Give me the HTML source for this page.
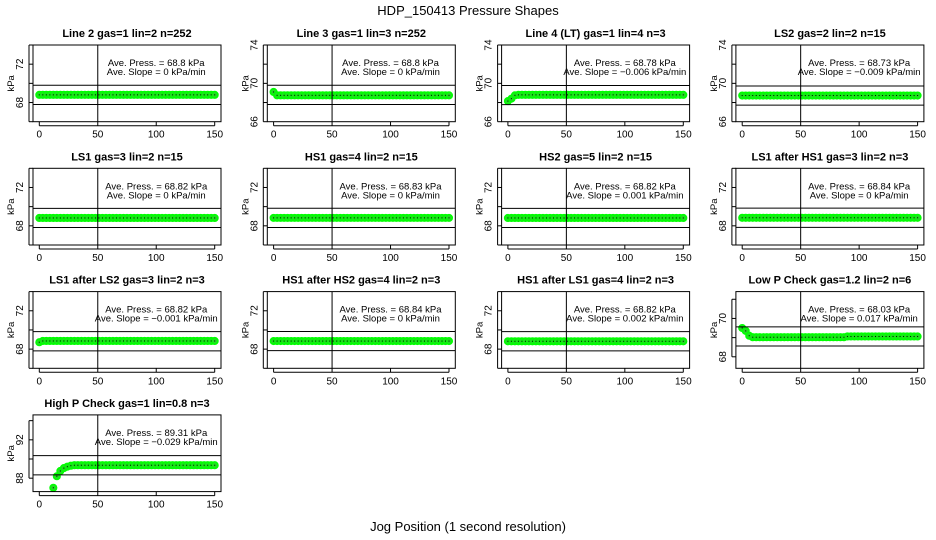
<!DOCTYPE html>
<html><head><meta charset="utf-8"><style>
html,body{margin:0;padding:0;background:#fff;}
svg{display:block;font-family:"Liberation Sans",sans-serif;}
</style></head><body>
<svg id="chart" width="936" height="540" viewBox="0 0 936 540" xmlns="http://www.w3.org/2000/svg">
<rect width="936" height="540" fill="#fff"/>
<text x="468" y="15" text-anchor="middle" font-size="13">HDP_150413  Pressure Shapes</text>
<text x="468" y="531" text-anchor="middle" font-size="13">Jog Position (1 second resolution)</text>
</svg>
<script>
const titles = ["Line 2 gas=1 lin=2 n=252","Line 3 gas=1 lin=3 n=252","Line 4 (LT) gas=1 lin=4 n=3","LS2 gas=2 lin=2 n=15",
"LS1 gas=3 lin=2 n=15","HS1 gas=4 lin=2 n=15","HS2 gas=5 lin=2 n=15","LS1 after HS1 gas=3 lin=2 n=3",
"LS1 after LS2 gas=3 lin=2 n=3","HS1 after HS2 gas=4 lin=2 n=3","HS1 after LS1 gas=4 lin=2 n=3","Low P Check gas=1.2 lin=2 n=6",
"High P Check gas=1 lin=0.8 n=3"];
const avePress = ["68.8","68.8","68.78","68.73","68.82","68.83","68.82","68.84","68.82","68.84","68.82","68.03","89.31"];
const aveSlope = ["0","0","\u22120.006","\u22120.009","0","0","0.001","0","\u22120.001","0","0.002","0.017","\u22120.029"];
const yMin = [66,66,66,66,66,66,66,66,66,66,66,67.4,86.6];
const yMax = [74,74,74,74,74,74,74,74,74,74,74,71.4,94.6];
const yTicksStd = [66,68,70,72,74];
const yTicksLowP = [68,69,70,71];
const yTicksHighP = [88,90,92,94];
const yLabelsA = [68,72];
const yLabelsB = [66,70,74];
const yLabelsLowP = [68,70];
const yLabelsHighP = [88,92];
const hiLine = [69.8,69.8,69.78,69.73,69.82,69.83,69.82,69.84,69.82,69.84,69.82,69.56,90.35];
const loLine = [67.8,67.8,67.78,67.73,67.82,67.83,67.82,67.84,67.82,67.84,67.82,68.56,88.35];
const xTicks = [0,50,100,150];
const xPos = [0,3,6,9,12,15,18,21,24,27,30,33,36,39,42,45,48,51,54,57,60,63,66,69,72,75,78,81,84,87,90,93,96,99,102,105,108,111,114,117,120,123,126,129,132,135,138,141,144,147,150];
const s1 = [68.8,68.8,68.8,68.8,68.8,68.8,68.8,68.8,68.8,68.8,68.8,68.8,68.8,68.8,68.8,68.8,68.8,68.8,68.8,68.8,68.8,68.8,68.8,68.8,68.8,68.8,68.8,68.8,68.8,68.8,68.8,68.8,68.8,68.8,68.8,68.8,68.8,68.8,68.8,68.8,68.8,68.8,68.8,68.8,68.8,68.8,68.8,68.8,68.8,68.8,68.8];
const s2 = [69.1,68.75,68.75,68.75,68.75,68.75,68.75,68.75,68.75,68.75,68.75,68.75,68.75,68.75,68.75,68.75,68.75,68.75,68.75,68.75,68.75,68.75,68.75,68.75,68.75,68.75,68.75,68.75,68.75,68.75,68.75,68.75,68.75,68.75,68.75,68.75,68.75,68.75,68.75,68.75,68.75,68.75,68.75,68.75,68.75,68.75,68.75,68.75,68.75,68.75,68.75];
const s3 = [68.15,68.4,68.75,68.8,68.8,68.8,68.8,68.8,68.8,68.8,68.8,68.8,68.8,68.8,68.8,68.8,68.8,68.8,68.8,68.8,68.8,68.8,68.8,68.8,68.8,68.8,68.8,68.8,68.8,68.8,68.8,68.8,68.8,68.8,68.8,68.8,68.8,68.8,68.8,68.8,68.8,68.8,68.8,68.8,68.8,68.8,68.8,68.8,68.8,68.8,68.8];
const s4 = [68.73,68.73,68.73,68.73,68.73,68.73,68.73,68.73,68.73,68.73,68.73,68.73,68.73,68.73,68.73,68.73,68.73,68.73,68.73,68.73,68.73,68.73,68.73,68.73,68.73,68.73,68.73,68.73,68.73,68.73,68.73,68.73,68.73,68.73,68.73,68.73,68.73,68.73,68.73,68.73,68.73,68.73,68.73,68.73,68.73,68.73,68.73,68.73,68.73,68.73,68.73];
const s5 = [68.82,68.82,68.82,68.82,68.82,68.82,68.82,68.82,68.82,68.82,68.82,68.82,68.82,68.82,68.82,68.82,68.82,68.82,68.82,68.82,68.82,68.82,68.82,68.82,68.82,68.82,68.82,68.82,68.82,68.82,68.82,68.82,68.82,68.82,68.82,68.82,68.82,68.82,68.82,68.82,68.82,68.82,68.82,68.82,68.82,68.82,68.82,68.82,68.82,68.82,68.82];
const s6 = [68.83,68.83,68.83,68.83,68.83,68.83,68.83,68.83,68.83,68.83,68.83,68.83,68.83,68.83,68.83,68.83,68.83,68.83,68.83,68.83,68.83,68.83,68.83,68.83,68.83,68.83,68.83,68.83,68.83,68.83,68.83,68.83,68.83,68.83,68.83,68.83,68.83,68.83,68.83,68.83,68.83,68.83,68.83,68.83,68.83,68.83,68.83,68.83,68.83,68.83,68.83];
const s7 = [68.82,68.82,68.82,68.82,68.82,68.82,68.82,68.82,68.82,68.82,68.82,68.82,68.82,68.82,68.82,68.82,68.82,68.82,68.82,68.82,68.82,68.82,68.82,68.82,68.82,68.82,68.82,68.82,68.82,68.82,68.82,68.82,68.82,68.82,68.82,68.82,68.82,68.82,68.82,68.82,68.82,68.82,68.82,68.82,68.82,68.82,68.82,68.82,68.82,68.82,68.82];
const s8 = [68.84,68.84,68.84,68.84,68.84,68.84,68.84,68.84,68.84,68.84,68.84,68.84,68.84,68.84,68.84,68.84,68.84,68.84,68.84,68.84,68.84,68.84,68.84,68.84,68.84,68.84,68.84,68.84,68.84,68.84,68.84,68.84,68.84,68.84,68.84,68.84,68.84,68.84,68.84,68.84,68.84,68.84,68.84,68.84,68.84,68.84,68.84,68.84,68.84,68.84,68.84];
const s9 = [68.72,68.85,68.85,68.85,68.85,68.85,68.85,68.85,68.85,68.85,68.85,68.85,68.85,68.85,68.85,68.85,68.85,68.85,68.85,68.85,68.85,68.85,68.85,68.85,68.85,68.85,68.85,68.85,68.85,68.85,68.85,68.85,68.85,68.85,68.85,68.85,68.85,68.85,68.85,68.85,68.85,68.85,68.85,68.85,68.85,68.85,68.85,68.85,68.85,68.85,68.85];
const s10 = [68.84,68.84,68.84,68.84,68.84,68.84,68.84,68.84,68.84,68.84,68.84,68.84,68.84,68.84,68.84,68.84,68.84,68.84,68.84,68.84,68.84,68.84,68.84,68.84,68.84,68.84,68.84,68.84,68.84,68.84,68.84,68.84,68.84,68.84,68.84,68.84,68.84,68.84,68.84,68.84,68.84,68.84,68.84,68.84,68.84,68.84,68.84,68.84,68.84,68.84,68.84];
const s11 = [68.82,68.82,68.82,68.82,68.82,68.82,68.82,68.82,68.82,68.82,68.82,68.82,68.82,68.82,68.82,68.82,68.82,68.82,68.82,68.82,68.82,68.82,68.82,68.82,68.82,68.82,68.82,68.82,68.82,68.82,68.82,68.82,68.82,68.82,68.82,68.82,68.82,68.82,68.82,68.82,68.82,68.82,68.82,68.82,68.82,68.82,68.82,68.82,68.82,68.82,68.82];
const s12 = [69.5,69.35,69.1,69.02,69.02,69.02,69.02,69.02,69.02,69.02,69.02,69.02,69.02,69.02,69.02,69.02,69.02,69.02,69.02,69.02,69.02,69.02,69.02,69.02,69.02,69.02,69.02,69.02,69.02,69.02,69.06,69.06,69.06,69.06,69.06,69.06,69.06,69.06,69.06,69.06,69.06,69.06,69.06,69.06,69.06,69.06,69.06,69.06,69.06,69.06,69.06];
const s13 = [null,null,null,null,87.0,88.2,88.75,89.05,89.2,89.3,89.35,89.35,89.35,89.35,89.35,89.35,89.35,89.35,89.35,89.35,89.35,89.35,89.35,89.35,89.35,89.35,89.35,89.35,89.35,89.35,89.35,89.35,89.35,89.35,89.35,89.35,89.35,89.35,89.35,89.35,89.35,89.35,89.35,89.35,89.35,89.35,89.35,89.35,89.35,89.35,89.35];

const series = [s1,s2,s3,s4,s5,s6,s7,s8,s9,s10,s11,s12,s13];
const NS = "http://www.w3.org/2000/svg";
const svg = document.getElementById("chart");
function mk(tag, attrs, parent){const e=document.createElementNS(NS,tag);for(const k in attrs)e.setAttribute(k,attrs[k]);(parent||svg).appendChild(e);return e;}

const BW=188, BH=76.7, X0=33, Y0=45, DX=234.3, DY=123.3;
for(let i=0;i<titles.length;i++){
  const col=i%4,row=Math.floor(i/4);
  const L=X0+col*DX, T=Y0+row*DY, R=L+BW, B=T+BH;
  const g=mk("g",{});
  
  
  const xs=v=>L+6.3+v*(BW-12.6)/150;
  const ys=v=>B-(v-yMin[i])/(yMax[i]-yMin[i])*BH;
  const t=mk("text",{x:(L+R)/2,y:T-8,"text-anchor":"middle","font-size":"11","font-weight":"bold"},g);
  t.textContent=titles[i];
  
  
  const vals=series[i];
  const pts=mk("g",{},g);
  
  
  for(let k=0;k<xPos.length;k++){
    if(vals[k]==null)continue;
    const cx=xs(xPos[k]),cy=ys(vals[k]);
    const c=mk("circle",{cx:cx,cy:cy,r:3.3,fill:"#22dd22",stroke:"#00ff00","stroke-width":1.5},pts);
    
    
  }
  for(let k=0;k<xPos.length;k++){
    if(vals[k]==null)continue;
    mk("rect",{x:xs(xPos[k])-0.5,y:ys(vals[k])-0.5,width:1,height:1,fill:"#000"},pts);
  }
  [hiLine[i],loLine[i]].forEach((v,j)=>{
    const l=mk("line",{x1:L,x2:R,y1:ys(v),y2:ys(v),stroke:"#000","stroke-width":1},g);
    
    
  });
  const vl=mk("line",{x1:xs(50),x2:xs(50),y1:T,y2:B,stroke:"#000","stroke-width":1},g);
  
  
  const box=mk("rect",{x:L,y:T,width:BW,height:BH,fill:"none",stroke:"#000","stroke-width":1},g);
  
  
  const a1=mk("text",{x:xs(100),y:T+21,"text-anchor":"middle","font-size":"9.5"},g);
  a1.textContent="Ave. Press. =  "+avePress[i]+"  kPa";
  
  
  const a2=mk("text",{x:xs(100),y:T+30,"text-anchor":"middle","font-size":"9.5"},g);
  a2.textContent="Ave. Slope =  "+aveSlope[i]+"  kPa/min";
  
  
  xTicks.forEach(v=>{
    mk("line",{x1:xs(v),x2:xs(v),y1:B,y2:B+4,stroke:"#000"},g);
    const tx=mk("text",{x:xs(v),y:B+16,"text-anchor":"middle","font-size":"10"},g);
    tx.textContent=v;
    
    
  });
  mk("line",{x1:xs(0),x2:xs(150),y1:B+4,y2:B+4,stroke:"#000"},g);
  let yt=yTicksStd, yl=(i==1||i==2||i==3)?yLabelsB:yLabelsA;
  if(i==11){yt=yTicksLowP;yl=yLabelsLowP;}
  if(i==12){yt=yTicksHighP;yl=yLabelsHighP;}
  mk("line",{x1:L-4,x2:L-4,y1:ys(yt[0]),y2:ys(yt[yt.length-1]),stroke:"#000"},g);
  yt.forEach(v=>{mk("line",{x1:L-4,x2:L,y1:ys(v),y2:ys(v),stroke:"#000"},g);});
  yl.forEach(v=>{
    const ty=mk("text",{x:0,y:0,"text-anchor":"middle","font-size":"10",transform:`translate(${L-10},${ys(v)}) rotate(-90)`},g);
    ty.textContent=v;
    
    
  });
  const yt2=mk("text",{x:0,y:0,"text-anchor":"middle","font-size":"9.5",transform:`translate(${L-19},${(T+B)/2}) rotate(-90)`},g);
  yt2.textContent="kPa";
  
  
}
</script>
</body></html>
